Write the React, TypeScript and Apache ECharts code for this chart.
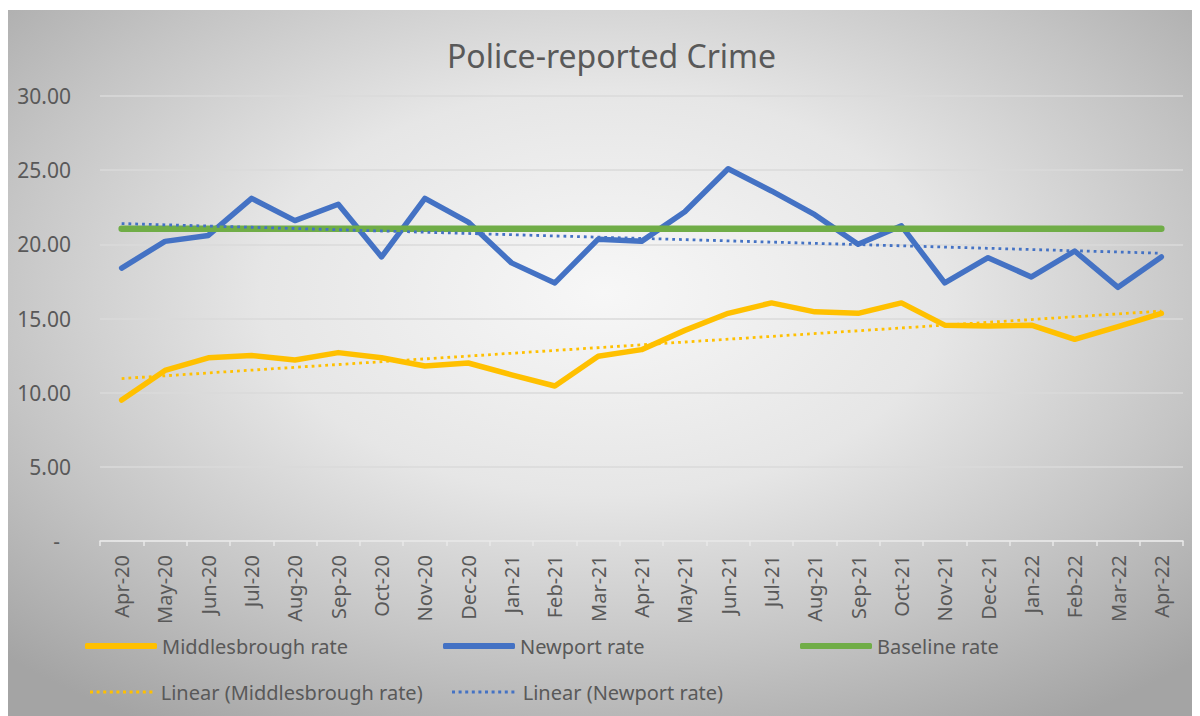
import React, { useEffect, useRef } from "react";
import * as echarts from "echarts";

const categories = [
  "Apr-20", "May-20", "Jun-20", "Jul-20", "Aug-20", "Sep-20", "Oct-20", "Nov-20", "Dec-20",
  "Jan-21", "Feb-21", "Mar-21", "Apr-21", "May-21", "Jun-21", "Jul-21", "Aug-21", "Sep-21",
  "Oct-21", "Nov-21", "Dec-21", "Jan-22", "Feb-22", "Mar-22", "Apr-22",
];

const middlesbrough = [
  9.5, 11.5, 12.35, 12.5, 12.2, 12.7, 12.35, 11.8, 12.0, 11.2, 10.45, 12.45, 12.9,
  14.2, 15.35, 16.05, 15.45, 15.35, 16.05, 14.55, 14.5, 14.55, 13.6, 14.45, 15.35,
];

const newport = [
  18.4, 20.2, 20.6, 23.1, 21.6, 22.7, 19.15, 23.1, 21.5, 18.75, 17.4, 20.35, 20.2,
  22.2, 25.1, 23.6, 22.0, 20.0, 21.25, 17.4, 19.1, 17.8, 19.55, 17.1, 19.15,
];

const baselineRate = 21.05;
const baseline = categories.map(() => baselineRate);

// Trendline end points (first and last month)
const trendMiddlesbrough = [10.95, 15.5];
const trendNewport = [21.4, 19.4];

const yTicks = { min: 0, max: 30, interval: 5 };

const FONT = "Noto Sans";
const TEXT = "#595959";

function dottedIcon(width: number, step: number, dot: number) {
  let d = "path://";
  for (let x = 0; x + dot <= width; x += step) {
    d += `M${x},0h${dot}v${dot}h-${dot}z `;
  }
  return d;
}

export default function App() {
  const ref = useRef<HTMLDivElement>(null);

  useEffect(() => {
    if (!ref.current) return;
    const chart = echarts.init(ref.current, null, { renderer: "svg" });
    const last = categories.length - 1;
    const solidLegend = {
      orient: "horizontal" as const,
      itemWidth: 72,
      itemHeight: 6,
      icon: "roundRect",
      textStyle: { color: TEXT, fontSize: 20, fontFamily: FONT },
      selectedMode: false,
    };
    const dotIcon = dottedIcon(63, 6.6, 3);
    const dottedLegend = {
      orient: "horizontal" as const,
      itemWidth: 63,
      itemHeight: 3,
      icon: dotIcon,
      textStyle: { color: TEXT, fontSize: 20, fontFamily: FONT, padding: [0, 0, 0, 3] },
      selectedMode: false,
    };
    chart.setOption({
      animation: false,
      backgroundColor: {
        type: "radial",
        x: 0.5,
        y: 0.4,
        r: 0.72,
        colorStops: [
          { offset: 0, color: "#f7f7f7" },
          { offset: 0.4, color: "#e6e6e6" },
          { offset: 0.72, color: "#c4c4c4" },
          { offset: 1, color: "#a4a4a4" },
        ],
      },
      title: {
        text: "Police-reported Crime",
        left: 434,
        top: 24,
        textStyle: { color: TEXT, fontSize: 32, fontWeight: "normal", fontFamily: FONT },
      },
      grid: { left: 92, right: 17, top: 86, bottom: 175, containLabel: false },
      legend: [
        { ...solidLegend, left: 72, top: 621, data: ["Middlesbrough rate"] },
        { ...solidLegend, left: 430, top: 621, data: ["Newport rate"] },
        { ...solidLegend, left: 787, top: 621, data: ["Baseline rate"] },
        { ...dottedLegend, left: 77, top: 667, data: ["Linear (Middlesbrough rate)"] },
        { ...dottedLegend, left: 439, top: 667, data: ["Linear (Newport rate)"] },
      ],
      xAxis: {
        type: "category",
        data: categories,
        boundaryGap: true,
        axisLine: { lineStyle: { color: "#e8e8e8", width: 1.5 } },
        axisTick: { show: true, length: 5, lineStyle: { color: "#e8e8e8", width: 1.5 } },
        axisLabel: {
          rotate: 90,
          color: TEXT,
          fontSize: 20,
          fontFamily: FONT,
          margin: 14,
          interval: 0,
        },
        splitLine: { show: false },
      },
      yAxis: {
        type: "value",
        min: yTicks.min,
        max: yTicks.max,
        interval: yTicks.interval,
        axisLine: { show: false },
        axisTick: { show: false },
        axisLabel: {
          color: TEXT,
          fontSize: 21,
          fontFamily: FONT,
          margin: 29,
          formatter: (v: number) => (v === 0 ? "-  " : v.toFixed(2)),
        },
        splitLine: { lineStyle: { color: "#dadada", width: 1.5 } },
      },
      series: [
        {
          name: "Middlesbrough rate",
          type: "line",
          data: middlesbrough,
          symbol: "none",
          lineStyle: { color: "#FFC000", width: 5.5, cap: "round", join: "round" },
          itemStyle: { color: "#FFC000" },
          z: 2,
        },
        {
          name: "Newport rate",
          type: "line",
          data: newport,
          symbol: "none",
          lineStyle: { color: "#4472C4", width: 5.5, cap: "round", join: "round" },
          itemStyle: { color: "#4472C4" },
          z: 3,
        },
        {
          name: "Baseline rate",
          type: "line",
          data: baseline,
          symbol: "none",
          lineStyle: { color: "#70AD47", width: 6.5, cap: "round" },
          itemStyle: { color: "#70AD47" },
          z: 4,
        },
        {
          name: "Linear (Middlesbrough rate)",
          type: "line",
          data: [
            [categories[0], trendMiddlesbrough[0]],
            [categories[last], trendMiddlesbrough[1]],
          ],
          symbol: "none",
          lineStyle: { color: "#FFC000", width: 2.8, type: [2.8, 4] },
          itemStyle: { color: "#FFC000" },
          z: 5,
        },
        {
          name: "Linear (Newport rate)",
          type: "line",
          data: [
            [categories[0], trendNewport[0]],
            [categories[last], trendNewport[1]],
          ],
          symbol: "none",
          lineStyle: { color: "#4472C4", width: 2.8, type: [2.8, 4] },
          itemStyle: { color: "#4472C4" },
          z: 5,
        },
      ],
    });
    return () => chart.dispose();
  }, []);

  return <div ref={ref} style={{ width: 1192, height: 706, marginTop: 2 }} />;
}
